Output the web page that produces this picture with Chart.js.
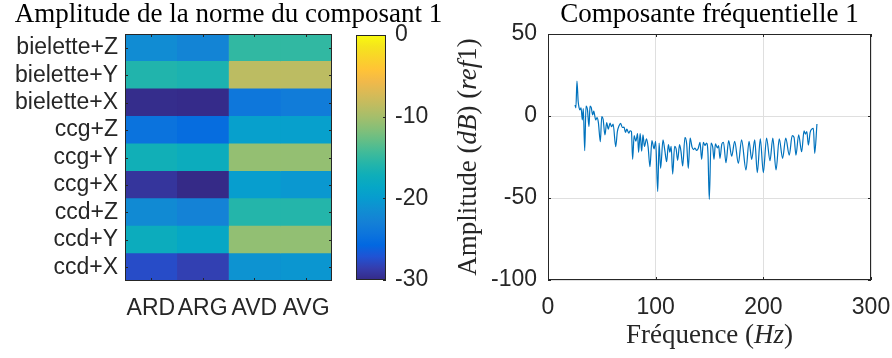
<!DOCTYPE html>
<html>
<head>
<meta charset="utf-8">
<script src="https://cdn.jsdelivr.net/npm/chart.js@4/dist/chart.umd.min.js"></script>
<style>
  html, body { margin: 0; padding: 0; background: #fff; }
  #wrap { position: relative; width: 892px; height: 358px; overflow: hidden; }
  canvas { position: absolute; top: 0; }
</style>
</head>
<body>
<div id="wrap">
  <canvas id="heat" width="460" height="358" style="left:0"></canvas>
  <canvas id="cbar" width="100" height="358" style="left:340px"></canvas>
  <canvas id="freq" width="452" height="358" style="left:440px"></canvas>
</div>
<script>
// heatmap data (rows top -> bottom)
const rowLabels = ['bielette+Z', 'bielette+Y', 'bielette+X', 'ccg+Z', 'ccg+Y', 'ccg+X', 'ccd+Z', 'ccd+Y', 'ccd+X']
const colLabels = ['ARD', 'ARG', 'AVD', 'AVG']
const normValues = [
    [-21.7, -22.5, -15.1, -15.1],
    [-16.0, -16.3, -8.8, -8.8],
    [-29.8, -29.9, -24.0, -23.5],
    [-24.5, -25.2, -19.5, -19.5],
    [-17.0, -17.6, -10.8, -10.8],
    [-29.2, -30.0, -19.8, -20.4],
    [-21.9, -22.7, -15.8, -15.8],
    [-17.6, -18.5, -10.9, -10.9],
    [-27.6, -28.4, -20.9, -20.6],
]
const colorMin = -30
const colorMax = 0

// frequency response
const freqHz = [
    25.1, 25.9, 26.9, 28.0, 28.8, 29.7, 30.7, 31.9, 32.8, 34.1,
    35.3, 36.6, 38.1, 39.0, 40.2, 41.5, 42.5, 44.3, 45.5, 46.8,
    48.6, 49.9, 51.2, 52.9, 54.5, 56.0, 57.6, 59.0, 60.5, 62.9,
    64.4, 66.0, 67.5, 69.0, 70.6, 72.0, 73.2, 75.0, 76.2, 77.5,
    78.6, 80.0, 81.6, 83.2, 84.1, 85.6, 87.0, 88.2, 89.6, 91.5,
    93.0, 94.7, 96.5, 98.5, 100.0, 101.9, 103.2, 104.6, 106.8, 108.5,
    110.2, 111.8, 113.2, 114.4, 115.8, 117.6, 119.0, 120.4, 122.2, 123.6,
    125.1, 127.2, 128.8, 130.3, 132.0, 133.8, 135.2, 136.5, 138.0, 139.5,
    141.2, 142.7, 144.3, 145.8, 147.2, 148.6, 149.8, 151.4, 153.0, 154.2,
    155.5, 157.3, 158.5, 159.7, 161.5, 163.0, 165.3, 167.8, 170.6, 173.4,
    176.8, 179.8, 183.9, 186.7, 189.2, 192.0, 194.4, 197.2, 200.0, 203.0,
    206.2, 208.8, 211.8, 214.8, 217.9, 220.8, 224.1, 226.8, 228.5, 230.3,
    232.8, 235.6, 237.8, 239.0, 240.4, 241.8, 243.5, 245.0, 246.5, 247.7,
    249.8,
]
const ampDb = [
    6.7, 5.0, 21.3, 9.0, 5.3, 3.7, 5.0, -2.4, 4.5, -21.1,
    6.1, 4.0, -6.5, 6.1, 5.0, 0.6, 3.0, -2.4, -1.0, -4.0,
    -15.7, -0.4, -2.0, -11.6, -4.0, -8.0, -4.3, -6.5, -5.0, -18.7,
    -9.6, -6.0, -4.5, -7.0, -6.8, -10.0, -8.0, -10.5, -9.0, -9.5,
    -26.4, -12.0, -15.4, -10.8, -22.2, -10.8, -21.5, -11.5, -18.5, -14.0,
    -19.0, -30.9, -15.0, -20.0, -15.5, -46.0, -16.5, -31.9, -14.5, -21.0,
    -27.9, -17.5, -22.0, -18.5, -35.4, -18.5, -20.0, -27.0, -17.5, -22.0,
    -30.5, -13.0, -17.0, -31.9, -13.5, -19.0, -20.5, -19.5, -21.0, -19.8,
    -16.0, -26.4, -16.0, -18.0, -16.5, -23.0, -50.8, -16.5, -19.0, -26.4,
    -17.0, -19.5, -18.0, -25.8, -17.0, -16.0, -28.5, -15.0, -24.5, -15.5,
    -28.9, -14.5, -32.9, -15.5, -26.4, -14.5, -34.5, -14.0, -34.5, -13.5,
    -27.2, -13.5, -32.9, -14.0, -25.8, -13.5, -23.8, -12.0, -13.0, -23.8,
    -11.5, -21.8, -9.0, -11.0, -9.5, -17.7, -10.0, -8.0, -7.5, -22.8,
    -4.9,
]

// parula colormap (every 3rd entry of parula(64))
const parula = [
    [53, 42, 135], [53, 61, 173], [32, 83, 212], [2, 104, 225], [13, 117, 220],
    [20, 129, 214], [16, 142, 210], [7, 156, 207], [6, 167, 198], [15, 174, 185],
    [37, 181, 169], [66, 187, 152], [101, 190, 134], [135, 191, 119], [165, 190, 107],
    [192, 188, 96], [217, 186, 86], [241, 185, 74], [255, 195, 55], [250, 211, 42],
    [245, 228, 29], [249, 251, 14],
]

function parulaColor(v) {
    let t = (v - colorMin) / (colorMax - colorMin)
    t = Math.max(0, Math.min(1, t)) * (parula.length - 1)
    const k = Math.min(parula.length - 2, Math.floor(t))
    const f = t - k
    const c = parula[k].map((a, i) => Math.round(a + (parula[k + 1][i] - a) * f))
    return `rgb(${c[0]}, ${c[1]}, ${c[2]})`
}

const axisColor = '#262626'
const sansFont = { family: '"Liberation Sans", Arial, sans-serif', size: 23 }
const serif = '27px "Liberation Serif", serif'
const serifIt = 'italic 27px "Liberation Serif", serif'

// scales keep the size we give them, no extra room for overhanging labels
const fixSize = (w, h) => s => {
    if (w !== undefined) s.width = w
    if (h !== undefined) s.height = h
    s.paddingLeft = 0
    s.paddingRight = 0
    s.paddingTop = 0
    s.paddingBottom = 0
}

// box around the axes plus small inward ticks, matlab style
function boxTicks(opts) {
    return {
        id: 'boxTicks',
        afterDatasetsDraw(chart) {
            const { ctx, chartArea: a } = chart
            const len = opts.len || 4
            ctx.save()
            ctx.strokeStyle = axisColor
            ctx.lineWidth = 1
            ctx.strokeRect(Math.round(a.left) + 0.5, Math.round(a.top) + 0.5,
                Math.round(a.width) - 1, Math.round(a.height) - 1)
            ctx.beginPath()
            Object.values(chart.scales).forEach(s => {
                if (!s.options.display) return
                s.ticks.forEach((t, i) => {
                    const p = Math.round(s.getPixelForTick(i)) + 0.5
                    if (s.isHorizontal()) {
                        ctx.moveTo(p, a.bottom); ctx.lineTo(p, a.bottom - len)
                        ctx.moveTo(p, a.top); ctx.lineTo(p, a.top + len)
                    } else {
                        if (opts.both || s.position === 'left') {
                            ctx.moveTo(a.left, p); ctx.lineTo(a.left + len, p)
                        }
                        if (opts.both || s.position === 'right') {
                            ctx.moveTo(a.right, p); ctx.lineTo(a.right - len, p)
                        }
                    }
                })
            })
            ctx.stroke()
            ctx.restore()
        },
    }
}

// titles with mixed upright / italic pieces
function richText(items) {
    return {
        id: 'richText',
        afterDraw(chart) {
            const { ctx, chartArea: a } = chart
            items.forEach(it => {
                ctx.save()
                ctx.translate(it.x(a), it.y(a))
                if (it.rotate) ctx.rotate(it.rotate)
                ctx.fillStyle = it.color || '#000'
                ctx.textBaseline = 'alphabetic'
                ctx.textAlign = 'left'
                let w = 0
                it.parts.forEach(([txt, f]) => { ctx.font = f; w += ctx.measureText(txt).width })
                let x = -w / 2
                it.parts.forEach(([txt, f]) => {
                    ctx.font = f
                    ctx.fillText(txt, x, 0)
                    x += ctx.measureText(txt).width
                })
                ctx.restore()
            })
        },
    }
}

const noPlugins = { legend: { display: false }, tooltip: { enabled: false }, title: { display: false } }

// left: heatmap
new Chart(document.getElementById('heat'), {
    type: 'bar',
    data: {
        labels: rowLabels,
        datasets: colLabels.map((c, j) => ({
            label: c,
            data: rowLabels.map(() => [j, j + 1]),
            backgroundColor: normValues.map(r => parulaColor(r[j])),
            borderWidth: 0,
            barPercentage: 1,
            categoryPercentage: 1,
            grouped: false,
        })),
    },
    options: {
        indexAxis: 'y',
        responsive: false,
        animation: false,
        layout: { padding: { top: 34, right: 128, left: 0, bottom: 0 } },
        plugins: noPlugins,
        scales: {
            y: {
                grid: { display: false, drawTicks: false },
                border: { display: false },
                ticks: { color: axisColor, font: sansFont, padding: 7, autoSkip: false },
                afterFit: fixSize(125),
            },
            x: {
                type: 'linear',
                min: 0,
                max: colLabels.length,
                grid: { display: false, drawTicks: false },
                border: { display: false },
                afterBuildTicks: s => { s.ticks = colLabels.map((c, i) => ({ value: i + 0.5 })) },
                ticks: {
                    color: axisColor, font: sansFont, padding: 14,
                    autoSkip: false, maxRotation: 0,
                    callback: (v, i) => colLabels[i],
                },
                afterFit: fixSize(undefined, 77),
            },
        },
    },
    plugins: [
        boxTicks({ both: true, len: 3 }),
        richText([{
            x: a => (a.left + a.right) / 2, y: () => 22,
            parts: [['Amplitude de la norme du composant 1', serif]],
        }]),
    ],
})

// colorbar
new Chart(document.getElementById('cbar'), {
    type: 'bar',
    data: {
        labels: [''],
        datasets: [{
            data: [[colorMin, colorMax]],
            borderWidth: 0,
            barPercentage: 1,
            categoryPercentage: 1,
            backgroundColor: c => {
                const a = c.chart.chartArea
                if (!a) return parulaColor(-15)
                const g = c.chart.ctx.createLinearGradient(0, a.bottom, 0, a.top)
                parula.forEach((p, k) => g.addColorStop(k / (parula.length - 1), `rgb(${p[0]}, ${p[1]}, ${p[2]})`))
                return g
            },
        }],
    },
    options: {
        responsive: false,
        animation: false,
        layout: { padding: { top: 35, left: 16, right: 0, bottom: 78 } },
        plugins: noPlugins,
        scales: {
            x: { display: false },
            y: {
                position: 'right',
                min: colorMin,
                max: colorMax,
                grid: { display: false, drawTicks: false },
                border: { display: false },
                ticks: { stepSize: 10, color: axisColor, font: sansFont, padding: 9 },
                afterFit: fixSize(54),
            },
        },
    },
    plugins: [boxTicks({ both: false, len: 3 })],
})

// right: frequency component
new Chart(document.getElementById('freq'), {
    type: 'line',
    data: {
        datasets: [{
            data: freqHz.map((f, i) => ({ x: f, y: ampDb[i] })),
            borderColor: '#0072BD',
            borderWidth: 1.2,
            pointRadius: 0,
            fill: false,
            cubicInterpolationMode: 'monotone',
        }],
    },
    options: {
        responsive: false,
        animation: false,
        layout: { padding: { top: 34, right: 21, left: 0, bottom: 0 } },
        plugins: noPlugins,
        scales: {
            x: {
                type: 'linear',
                min: 0,
                max: 300,
                grid: { color: '#dfdfdf', drawTicks: false },
                border: { display: false },
                ticks: { stepSize: 100, color: axisColor, font: sansFont, padding: 14, maxRotation: 0 },
                afterFit: fixSize(undefined, 78),
            },
            y: {
                min: -100,
                max: 50,
                grid: { color: '#dfdfdf', drawTicks: false },
                border: { display: false },
                ticks: { stepSize: 50, color: axisColor, font: sansFont, padding: 11 },
                afterFit: fixSize(108),
            },
        },
    },
    plugins: [
        boxTicks({ both: true, len: 3 }),
        richText([
            {
                x: a => (a.left + a.right) / 2, y: () => 22,
                parts: [['Composante fréquentielle 1', serif]],
            },
            {
                x: a => (a.left + a.right) / 2, y: () => 343, color: axisColor,
                parts: [['Fréquence (', serif], ['Hz', serifIt], [')', serif]],
            },
            {
                x: () => 36, y: a => (a.top + a.bottom) / 2, rotate: -Math.PI / 2, color: axisColor,
                parts: [['Amplitude (', serif], ['dB', serifIt], [') (', serif], ['ref', serifIt], ['1)', serif]],
            },
        ]),
    ],
})
</script>
</body>
</html>
